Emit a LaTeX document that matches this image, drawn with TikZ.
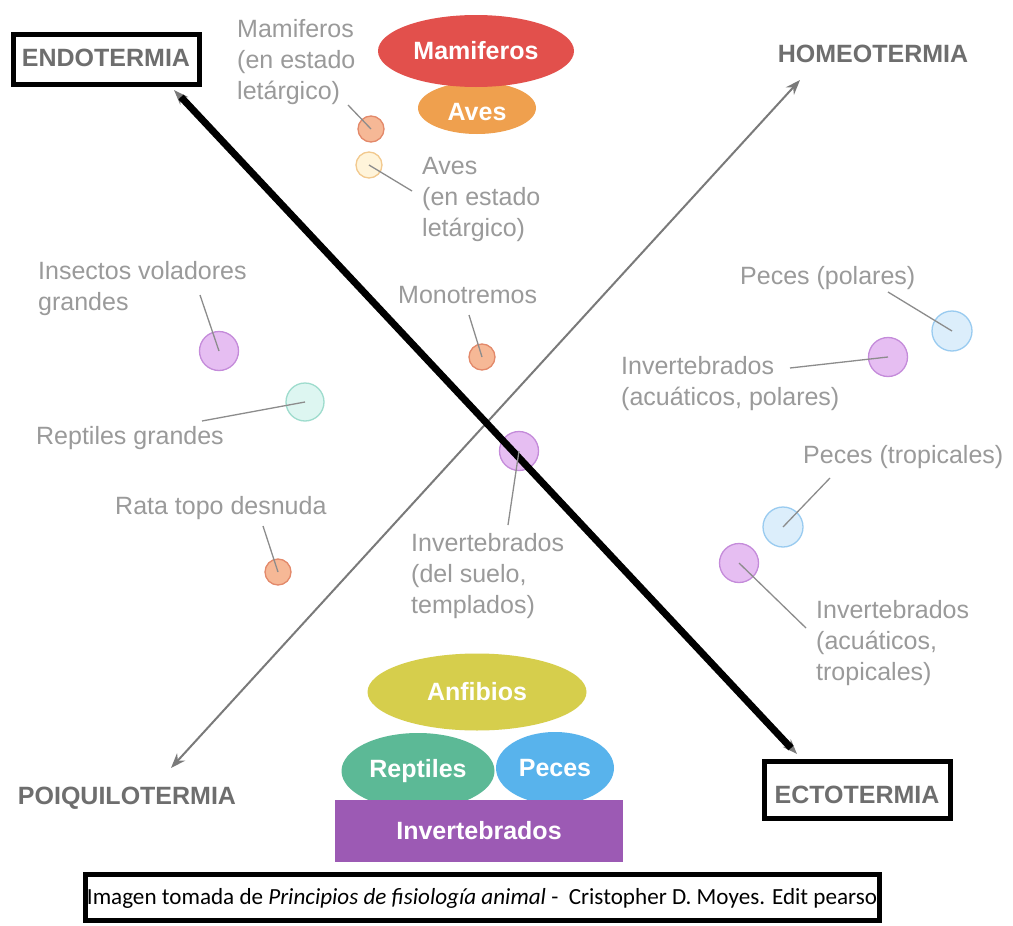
\documentclass[tikz,border=0pt]{standalone}
\usepackage{fontspec}
\setmainfont{Liberation Sans}
\newfontfamily\capfont{Carlito}
\usetikzlibrary{shapes.geometric,arrows.meta}

\definecolor{labelgray}{HTML}{9A9A9A}
\definecolor{termgray}{HTML}{6E6E6E}
\definecolor{leadgray}{HTML}{8C8C8C}
\definecolor{axisgray}{HTML}{7A7A7A}
\definecolor{mamred}{HTML}{E2504C}
\definecolor{avesorange}{HTML}{EFA04E}
\definecolor{anfyellow}{HTML}{D6CE4C}
\definecolor{reptgreen}{HTML}{5CB996}
\definecolor{pecesblue}{HTML}{58B3EC}
\definecolor{invpurple}{HTML}{9C5AB4}
% small marker colours (fill / rim)
\definecolor{orfill}{HTML}{F6B896}\definecolor{orrim}{HTML}{E3896A}
\definecolor{yefill}{HTML}{FFF4DA}\definecolor{yerim}{HTML}{F2C98E}
\definecolor{pufill}{HTML}{E6BEF2}\definecolor{purim}{HTML}{C48BDA}
\definecolor{tefill}{HTML}{DDF6F1}\definecolor{terim}{HTML}{9EDCCD}
\definecolor{blfill}{HTML}{DCEEFB}\definecolor{blrim}{HTML}{99CBF0}

\begin{document}
\begin{tikzpicture}[x=1pt,y=-1pt,
  lbl/.style={text=labelgray, font=\fontsize{25}{31}\selectfont, align=left, inner sep=0, anchor=west},
  term/.style={text=termgray, font=\fontsize{25}{30}\selectfont\bfseries, inner sep=0},
  framed/.style={draw=black, line width=5pt, inner sep=0},
  spot/.style={circle, inner sep=0, minimum size=#1, line width=1.3pt},
  orspot/.style={spot=26, fill=orfill, draw=orrim},
  yespot/.style={spot=26, fill=yefill, draw=yerim},
  puspot/.style={spot=39, fill=pufill, draw=purim},
  tespot/.style={spot=38, fill=tefill, draw=terim},
  blspot/.style={spot=40, fill=blfill, draw=blrim},
  lead/.style={draw=leadgray, line width=1.3pt},
  blob/.style={ellipse, inner sep=0, text=white, font=\fontsize{25}{30}\selectfont\bfseries},
  axisline/.style={draw=axisgray, line width=2pt, {Stealth[length=15pt,width=11pt]}-{Stealth[length=15pt,width=11pt]}}
]
\useasboundingbox[fill=white] (0,0) rectangle (1013,926);

% ---- the two axes ----
\coordinate (poiTip) at (171,768);
\coordinate (homeoTip) at (800,80);
\coordinate (endoTip) at (174,90);
\coordinate (ectoTip) at (797,754);
\coordinate (endoEnd) at (181,97);
\coordinate (ectoEnd) at (791,748);
\draw[axisline] (poiTip) -- (homeoTip);
\draw[axisline] (endoTip) -- (ectoTip);

% ---- corner terms ----
\node[framed, minimum width=186, minimum height=50] (endoBox) at (106.5,59.5) {};
\node[term] (endo) at (106,58) {ENDOTERMIA};
\node[term] (homeo) at (873,54) {HOMEOTERMIA};
\node[term] (poiq) at (127,798) {POIQUILOTERMIA};
\node[framed, minimum width=186, minimum height=57] (ectoBox) at (857.5,790) {};
\node[term] (ecto) at (857,795) {ECTOTERMIA};

% ---- top stack ----
\node[blob, fill=avesorange, minimum width=118, minimum height=52] (aves) at (477,108) {};
\node[blob, fill=mamred, minimum width=196, minimum height=72] (mam) at (476,51) {Mamiferos};
\node[text=white, font=\fontsize{25}{30}\selectfont\bfseries, inner sep=0] (avesTxt) at (477,112) {Aves};

% ---- bottom stack ----
\node[blob, fill=anfyellow, minimum width=219, minimum height=77] (anf) at (477,692) {Anfibios};
\node[blob, fill=reptgreen, minimum width=153, minimum height=76] (rept) at (418,771) {Reptiles};
\node[blob, fill=pecesblue, minimum width=118, minimum height=72] (peces) at (555,768) {Peces};
\node[rectangle, fill=invpurple, inner sep=0, minimum width=288, minimum height=62,
      text=white, font=\fontsize{25}{30}\selectfont\bfseries] (invert) at (479,831) {Invertebrados};

% ---- markers ----
\node[orspot] (mamLet) at (371,129) {};
\node[yespot] (avesLet) at (369,165) {};
\node[puspot] (insect) at (219,351) {};
\node[tespot] (reptG) at (305,402) {};
\node[orspot] (rata) at (278,572) {};
\node[orspot] (mono) at (482,357) {};
\node[puspot] (invSuelo) at (519,451) {};
\node[blspot] (pecesPol) at (952,331) {};
\node[puspot] (invPol) at (888,357) {};
\node[blspot] (pecesTrop) at (783,527) {};
\node[puspot] (invTrop) at (739,563) {};

% ---- thick black line over the endotermia/ectotermia axis ----
\draw[black, line width=7pt] (endoEnd) -- (ectoEnd);

% ---- labels ----
\node[lbl] (tMamLet) at (237,62) {Mamiferos\\(en estado\\letárgico)};
\node[lbl] (tAvesLet) at (422,199) {Aves\\(en estado\\letárgico)};
\node[lbl] (tInsect) at (38,289) {Insectos voladores\\grandes};
\node[lbl] (tReptG) at (36,438) {Reptiles grandes};
\node[lbl] (tRata) at (115,508) {Rata topo desnuda};
\node[lbl] (tMono) at (398,295) {Monotremos};
\node[lbl] (tInvSuelo) at (411,576) {Invertebrados\\(del suelo,\\templados)};
\node[lbl] (tPecesPol) at (740,278) {Peces (polares)};
\node[lbl] (tInvPol) at (621,384) {Invertebrados\\(acuáticos, polares)};
\node[lbl] (tPecesTrop) at (803,457) {Peces (tropicales)};
\node[lbl] (tInvTrop) at (816,643) {Invertebrados\\(acuáticos,\\tropicales)};

% ---- leader lines ----
\coordinate (cMamLet) at (348,105);
\coordinate (cAvesLet) at (412,191);
\coordinate (cInsect) at (200,295);
\coordinate (cReptG) at (202,421);
\coordinate (cRata) at (263,526);
\coordinate (cMono) at (469,315);
\coordinate (cInvSuelo) at (508,525);
\coordinate (cPecesPol) at (888,292);
\coordinate (cInvPol) at (790,368);
\coordinate (cPecesTrop) at (830,478);
\coordinate (cInvTrop) at (806,628);
\draw[lead] (cMamLet) -- (mamLet.center);
\draw[lead] (avesLet.center) -- (cAvesLet);
\draw[lead] (cInsect) -- (insect.center);
\draw[lead] (cReptG) -- (reptG.center);
\draw[lead] (cRata) -- (rata.center);
\draw[lead] (cMono) -- (mono.center);
\draw[lead] (invSuelo.center) -- (cInvSuelo);
\draw[lead] (cPecesPol) -- (pecesPol.center);
\draw[lead] (cInvPol) -- (invPol.center);
\draw[lead] (cPecesTrop) -- (pecesTrop.center);
\draw[lead] (invTrop.center) -- (cInvTrop);

% ---- source caption ----
\node[framed, minimum width=794, minimum height=46] (capBox) at (482.5,897.5) {};
\node[inner sep=0] (cap) at (482,898) {\resizebox{790pt}{!}{\capfont Imagen tomada de \textit{Principios de fisiología animal} -\ \ Cristopher D. Moyes. Edit pearso}};
\end{tikzpicture}
\end{document}
